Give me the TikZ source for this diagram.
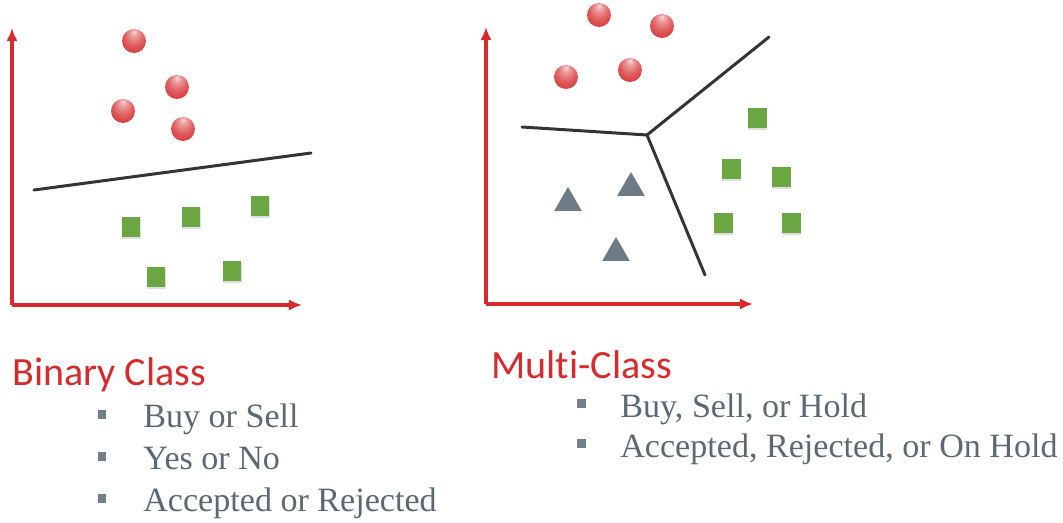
\documentclass[tikz,border=0pt]{standalone}
\usepackage{fontspec}
\setmainfont{Liberation Serif}
\newfontfamily\titfont[Ligatures=NoCommon]{Carlito}
\usepackage{tikz}
\usetikzlibrary{arrows.meta,shapes.geometric,shadows}
\definecolor{rojo}{RGB}{214,42,44}
\definecolor{verde}{RGB}{108,166,66}
\definecolor{gris}{RGB}{110,123,133}
\definecolor{texto}{RGB}{92,105,114}
\definecolor{linea}{RGB}{50,52,54}
% brillo de las bolas, arriba al centro
\pgfdeclareradialshading{bolaroja}{\pgfqpoint{0bp}{20bp}}{color(0bp)=(rojo!15!white); color(7bp)=(rojo!45!white); color(20bp)=(rojo!75!white); color(38bp)=(rojo); color(50bp)=(rojo!85!black)}

\begin{document}
\begin{tikzpicture}[x=0.02cm,y=-0.02cm,
  eje/.style={draw=rojo,line width=1.8pt,-{Latex[length=7.5pt,width=6.5pt]}},
  bola/.style={circle,shading=bolaroja,minimum size=0.48cm,inner sep=0pt},
  caja/.style={rectangle,fill=verde,minimum width=0.38cm,minimum height=0.40cm,inner sep=0pt,drop shadow={opacity=0.25,shadow xshift=0.4pt,shadow yshift=-1pt}},
  tri/.style={regular polygon,regular polygon sides=3,fill=gris,minimum size=0.64cm,inner sep=0pt},
  borde/.style={draw=linea,line width=1.7pt,line cap=round,line join=round},
  vineta/.style={rectangle,fill=texto!85,minimum size=0.18cm,inner sep=0pt},
  titulo/.style={anchor=base west,text=rojo,font=\titfont\fontsize{22.8}{26}\selectfont,inner sep=0pt},
  item/.style={anchor=base west,text=texto,font=\fontsize{19.4}{22}\selectfont,inner sep=0pt}]
 \useasboundingbox (0,0) rectangle (1063,523);
% clase binaria
 \coordinate (o1) at (12,305);
 \coordinate (y1) at (12,28);
 \coordinate (x1) at (302,305);
 \draw[eje] (o1) -- (y1);
 \draw[eje] (o1) -- (x1);
 \node[bola] (b1) at (134,41) {};
 \node[bola] (b2) at (177,87) {};
 \node[bola] (b3) at (123,111) {};
 \node[bola] (b4) at (183,129) {};
 \coordinate (s1) at (34,190);
 \coordinate (s2) at (311,153);
 \draw[borde] (s1) -- (s2); % frontera
 \node[caja] (c1) at (131,227) {};
 \node[caja] (c2) at (191,217) {};
 \node[caja] (c3) at (260,206) {};
 \node[caja] (c4) at (156,277) {};
 \node[caja] (c5) at (232,271) {};
% multiclase
 \coordinate (o2) at (486,304);
 \coordinate (y2) at (486,27);
 \coordinate (x2) at (753,304);
 \draw[eje] (o2) -- (y2);
 \draw[eje] (o2) -- (x2);
 \node[bola] (m1) at (599,15) {};
 \node[bola] (m2) at (662,26) {};
 \node[bola] (m3) at (566,77) {};
 \node[bola] (m4) at (630,70) {};
 \coordinate (J) at (647,135);
 \coordinate (L) at (522,127);
 \coordinate (U) at (769,37);
 \coordinate (D) at (705,275);
 \draw[borde] (L) -- (J) -- (U);
 \draw[borde] (J) -- (D);
 \node[tri] (t1) at (568,203) {};
 \node[tri] (t2) at (631,188) {};
 \node[tri] (t3) at (616,253) {};
 \node[caja] (k1) at (757,118) {};
 \node[caja] (k2) at (731,169) {};
 \node[caja] (k3) at (781,177) {};
 \node[caja] (k4) at (723,223) {};
 \node[caja] (k5) at (791,223) {};
% textos
 \node[titulo] (tbin) at (12,386) {Binary Class};
 \node[vineta] (v1) at (102,415) {};
 \node[vineta] (v2) at (102,457) {};
 \node[vineta] (v3) at (102,499) {};
 \node[item] (i1) at (143,428) {Buy or Sell};
 \node[item] (i2) at (143,470) {Yes or No};
 \node[item] (i3) at (143,512) {Accepted or Rejected};
 \node[titulo] (tmul) at (491,379) {Multi-Class};
 \node[vineta] (w1) at (581,404) {};
 \node[vineta] (w2) at (581,444) {};
 \node[item] (j1) at (620,418) {Buy, Sell, or Hold};
 \node[item] (j2) at (620,458) {Accepted, Rejected, or On Hold};
\end{tikzpicture}
\end{document}
